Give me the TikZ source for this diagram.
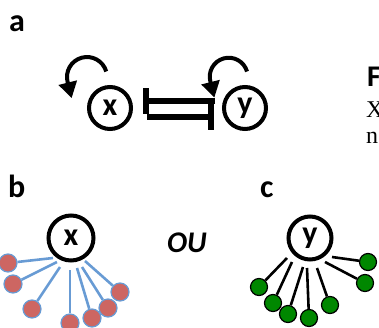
\documentclass[tikz,border=0pt]{standalone}
\usepackage{fontspec}
\setmainfont{Carlito}
\newfontfamily\serifx{Liberation Serif}
\usetikzlibrary{arrows.meta}
\definecolor{reddot}{RGB}{205,102,98}
\definecolor{blueln}{RGB}{104,155,212}
\definecolor{greendot}{RGB}{0,135,0}
\begin{document}
\begin{tikzpicture}[x=1pt,y=1pt,
  lbl/.style={font=\fontsize{32}{34}\selectfont\bfseries, inner sep=0pt, anchor=base west},
  bigc/.style={circle, draw, line width=4pt, fill=white, inner sep=0pt,
    font=\fontsize{32}{34}\selectfont\bfseries},
  inh/.style={line width=6pt, -{Bar[width=25pt]}},
  selfloop/.style={line width=4pt, -{Triangle[length=16pt,width=18pt]}},
  bline/.style={blueln, line width=2.6pt},
  gline/.style={black, line width=2.6pt},
  rdot/.style={circle, fill=reddot, draw=blueln, line width=1.2pt, minimum size=18pt, inner sep=0pt},
  gdot/.style={circle, fill=greendot, draw=black, line width=1.2pt, minimum size=17pt, inner sep=0pt}
]
\useasboundingbox (0,0) rectangle (379,327);

% panel labels
\node[lbl] (la) at (9,295) {a};
\node[lbl] (lb) at (8,130) {b};
\node[lbl] (lc) at (260,130) {c};

% panel a
\node[bigc, minimum size=42pt] (X) at (110,219) {x};
\node[bigc, minimum size=42pt] (Y) at (245,219) {y};
\draw[inh, shorten <=7pt, shorten >=10pt] ([yshift=7pt]Y.west) -- ([yshift=7pt]X.east);
\draw[inh, shorten <=14pt, shorten >=8pt] ([yshift=-9pt]X.east) -- ([yshift=-9pt]Y.west);
\draw[selfloop] ([shift={(-3.8pt,36.5pt)}]X.center) arc[start angle=16, end angle=195, radius=20pt] -- ++(4pt,-16pt);
\draw[selfloop] ([shift={(2pt,36.5pt)}]Y.center) arc[start angle=16, end angle=195, radius=19pt] -- ++(4pt,-16pt);

% right side text (cut off)
\node[lbl, font=\fontsize{30}{32}\selectfont\bfseries] (F) at (367,240) {F};
\node[font=\serifx\fontsize{24}{26}\selectfont, inner sep=0pt, anchor=base west] (tX) at (366,210) {X};
\node[font=\serifx\fontsize{24}{26}\selectfont, inner sep=0pt, anchor=base west] (tn) at (366,184) {n};

% panel b
\node[bigc, minimum size=45pt] (X2) at (71,89) {x};
\node[rdot] (r1) at (8,64) {};
\node[rdot] (r2) at (13,43) {};
\node[rdot] (r3) at (32,18) {};
\node[rdot] (r4) at (70,4) {};
\node[rdot] (r5) at (92,9) {};
\node[rdot] (r6) at (108,19) {};
\node[rdot] (r7) at (120,35) {};
\coordinate (s1) at (53,69);
\coordinate (s2) at (57,65);
\coordinate (s3) at (60,60);
\coordinate (s4) at (70,57);
\coordinate (s5) at (77,59);
\coordinate (s6) at (82,60);
\coordinate (s7) at (85,66);
\foreach \i in {1,...,7} \draw[bline] (s\i) -- (r\i);

% OU
\node[font=\fontsize{30}{32}\selectfont\bfseries\itshape, inner sep=0pt] (OU) at (187,84) {OU};

% panel c
\node[bigc, minimum size=43pt] (Y2) at (310,89) {y};
\node[gdot] (g1) at (368,65) {};
\node[gdot] (g2) at (365,44) {};
\node[gdot] (g3) at (330,22) {};
\node[gdot] (g4) at (309,9) {};
\node[gdot] (g5) at (288,13) {};
\node[gdot] (g6) at (273,24) {};
\node[gdot] (g7) at (259,40) {};
\coordinate (t1) at (332,70);
\coordinate (t2) at (325,65);
\coordinate (t3) at (317,59);
\coordinate (t4) at (307,59);
\coordinate (t5) at (303,60);
\coordinate (t6) at (292,65);
\coordinate (t7) at (287,69);
\foreach \i in {1,...,7} \draw[gline] (t\i) -- (g\i);
\end{tikzpicture}
\end{document}
